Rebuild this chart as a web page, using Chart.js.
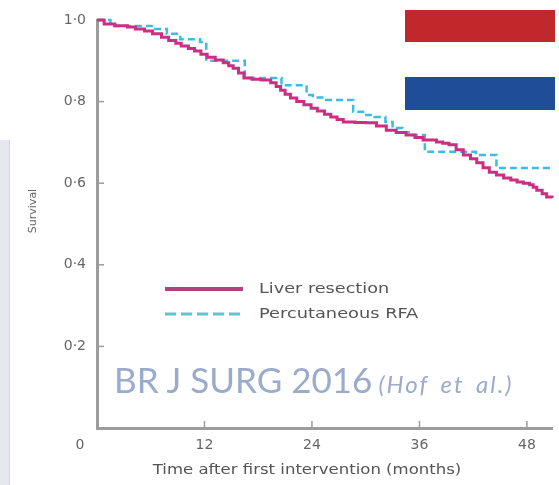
<!DOCTYPE html>
<html>
<head>
<meta charset="utf-8">
<script src="https://cdn.jsdelivr.net/npm/chart.js@4"></script>
<style>
  body { margin: 0; background: #fff; }
  #wrap { position: relative; width: 559px; height: 485px; overflow: hidden; }
  .flag { position: absolute; left: 405px; width: 150px; }
  #red { top: 10px; height: 32px; background: #c1282b; }
  #blue { top: 77px; height: 33px; background: #1f4d97; }
  #band { position: absolute; left: 0; top: 140px; width: 9px; height: 345px; background: #e7e7ef; border-right: 1px solid #d6d6df; }
  #cite { position: absolute; left: 114px; top: 362px; font-family: Lato, "Open Sans", sans-serif; color: #9aabcb; white-space: nowrap; line-height: 1; }
  #cite .big { font-size: 35px; }
  #cite .small { font-size: 24px; font-style: italic; letter-spacing: 2px; word-spacing: 4px; margin-left: 6px; }
</style>
</head>
<body>
<div id="wrap">
  <canvas id="kmChart" width="559" height="485"></canvas>
  <div id="band"></div>
  <div class="flag" id="red"></div>
  <div class="flag" id="blue"></div>
  <div id="cite"><span class="big">BR J SURG 2016</span><span class="small">(Hof et al.)</span></div>
</div>
<script>
// Kaplan-Meier: survival after liver resection vs percutaneous RFA
const resectionMonths = [0, 0.8, 2.0, 3.4, 4.3, 5.3, 6.2, 7.2, 8.0, 8.8, 9.4, 10.2, 10.9, 11.6, 12.3, 13.2, 14.1, 14.7, 15.2, 15.8, 16.4, 17.3, 18.3, 19.4, 20.0, 20.5, 21.0, 21.6, 22.3, 23.1, 23.9, 24.6, 25.4, 26.1, 26.8, 27.5, 28.8, 30.0, 31.2, 32.3, 33.4, 34.5, 35.5, 36.4, 37.9, 38.6, 39.3, 40.1, 40.9, 41.7, 42.4, 43.1, 43.8, 44.6, 45.4, 46.2, 46.9, 47.6, 48.3, 48.7, 49.1, 49.7, 50.2, 50.8];
const resectionSurvival = [1.0, 0.99, 0.986, 0.983, 0.978, 0.973, 0.966, 0.958, 0.95, 0.943, 0.936, 0.93, 0.924, 0.916, 0.909, 0.902, 0.895, 0.888, 0.882, 0.87, 0.858, 0.855, 0.853, 0.846, 0.837, 0.828, 0.818, 0.809, 0.8, 0.792, 0.784, 0.777, 0.769, 0.762, 0.756, 0.75, 0.749, 0.748, 0.74, 0.73, 0.724, 0.718, 0.712, 0.706, 0.701, 0.698, 0.694, 0.682, 0.669, 0.66, 0.65, 0.638, 0.627, 0.62, 0.613, 0.608, 0.603, 0.6, 0.596, 0.59, 0.583, 0.574, 0.566, 0.564];

const rfaMonths = [0, 1.5, 6.3, 7.8, 9.3, 11.5, 12.2, 16.5, 20.6, 23.4, 24.1, 25.4, 28.6, 29.7, 31.0, 32.2, 33.0, 34.1, 35.0, 36.6, 42.3, 44.6, 50.8];
const rfaSurvival = [1.0, 0.985, 0.978, 0.966, 0.953, 0.946, 0.90, 0.858, 0.84, 0.816, 0.81, 0.804, 0.775, 0.767, 0.762, 0.75, 0.735, 0.725, 0.718, 0.677, 0.669, 0.637, 0.637];

const seriesNames = ['Liver resection', 'Percutaneous RFA'];
const yTicks = [0, 0.2, 0.4, 0.6, 0.8, 1.0];
const xTicks = [0, 12, 24, 36, 48];
const xTitle = 'Time after first intervention (months)';
const yTitle = 'Survival';

const pink = '#c92f82';
const cyan = '#3bbde0';
const axisGrey = '#9c9c9c';
const fontFamily = '"DejaVu Sans", Verdana, sans-serif';

function toPoints(xs, ys) {
    return xs.map((x, i) => ({ x: x, y: ys[i] }));
}
const fmt = v => v.toFixed(1).replace('.', '\u00b7');

// the source picture is stretched sideways, so its text is wide
function wideText(ctx, text, x, y, sx) {
    ctx.save();
    ctx.translate(x, y);
    ctx.scale(sx, 1);
    ctx.fillText(text, 0, 0);
    ctx.restore();
}

function strokeLine(ctx, x1, y1, x2, y2) {
    ctx.beginPath();
    ctx.moveTo(x1, y1);
    ctx.lineTo(x2, y2);
    ctx.stroke();
}

// inward tick marks, origin "0", axis titles and the legend inside the plot
const extras = {
    id: 'extras',
    afterDraw(chart) {
        const ctx = chart.ctx;
        const xs = chart.scales.x, ys = chart.scales.y;
        const x0 = xs.getPixelForValue(0), y0 = ys.getPixelForValue(0);
        ctx.save();
        ctx.strokeStyle = axisGrey;
        ctx.lineWidth = 1.5;
        yTicks.slice(1, -1).forEach(v => {
            const y = ys.getPixelForValue(v);
            strokeLine(ctx, x0, y, x0 + 7, y);
        });
        xTicks.slice(1).forEach(v => {
            const x = xs.getPixelForValue(v);
            strokeLine(ctx, x, y0, x, y0 - 7);
        });
        ctx.fillStyle = '#666';
        ctx.font = '14px ' + fontFamily;
        ctx.textAlign = 'center';
        ctx.textBaseline = 'middle';
        ctx.fillText('0', x0 - 17, y0 + 17);

        // axis titles
        ctx.fillStyle = '#555';
        wideText(ctx, xTitle, 307, 470, 1.18);
        ctx.save();
        ctx.translate(33, 211);
        ctx.rotate(-Math.PI / 2);
        ctx.font = '11px ' + fontFamily;
        ctx.fillStyle = '#666';
        ctx.fillText(yTitle, 0, 0);
        ctx.restore();

        // legend
        const lx = 165, ly = 289;
        ctx.lineWidth = 4;
        ctx.strokeStyle = '#b0427c';
        strokeLine(ctx, lx, ly, lx + 78, ly);
        ctx.lineWidth = 3;
        ctx.strokeStyle = '#62c3cc';
        ctx.setLineDash([11, 5]);
        strokeLine(ctx, lx, ly + 25, lx + 78, ly + 25);
        ctx.setLineDash([]);
        ctx.fillStyle = '#555';
        ctx.textAlign = 'left';
        wideText(ctx, seriesNames[0], lx + 94, ly, 1.26);
        wideText(ctx, seriesNames[1], lx + 94, ly + 25, 1.27);
        ctx.restore();
    }
};

Chart.defaults.font.family = fontFamily;
Chart.defaults.color = '#666';

const kmCtx = document.getElementById('kmChart').getContext('2d');
new Chart(kmCtx, {
    type: 'line',
    data: {
        datasets: [{
            label: seriesNames[0],
            data: toPoints(resectionMonths, resectionSurvival),
            borderColor: pink,
            borderWidth: 3,
            stepped: true,
            pointRadius: 0,
            clip: false
        }, {
            label: seriesNames[1],
            data: toPoints(rfaMonths, rfaSurvival),
            borderColor: cyan,
            borderWidth: 2.5,
            borderDash: [7, 4],
            stepped: true,
            pointRadius: 0,
            clip: false
        }]
    },
    options: {
        responsive: false,
        animation: false,
        devicePixelRatio: 1,
        layout: { padding: { top: 20, right: 7, left: 0, bottom: 0 } },
        plugins: {
            legend: { display: false },
            tooltip: { enabled: false }
        },
        scales: {
            x: {
                type: 'linear',
                min: 0,
                max: 50.8,
                afterFit: s => { s.height = 57; },
                afterBuildTicks: s => { s.ticks = xTicks.map(v => ({ value: v })); },
                ticks: {
                    padding: 9,
                    font: { size: 14 },
                    callback: v => v === 0 ? '' : v
                },
                grid: { display: false, drawTicks: false },
                border: { display: true, color: axisGrey, width: 3 }
            },
            y: {
                min: 0,
                max: 1,
                afterFit: s => { s.width = 97; },
                afterBuildTicks: s => { s.ticks = yTicks.map(v => ({ value: v })); },
                ticks: {
                    padding: 11,
                    font: { size: 14 },
                    callback: v => v === 0 ? '' : fmt(v)
                },
                grid: { display: false, drawTicks: false },
                border: { display: true, color: axisGrey, width: 3 }
            }
        }
    },
    plugins: [extras]
});
</script>
</body>
</html>
